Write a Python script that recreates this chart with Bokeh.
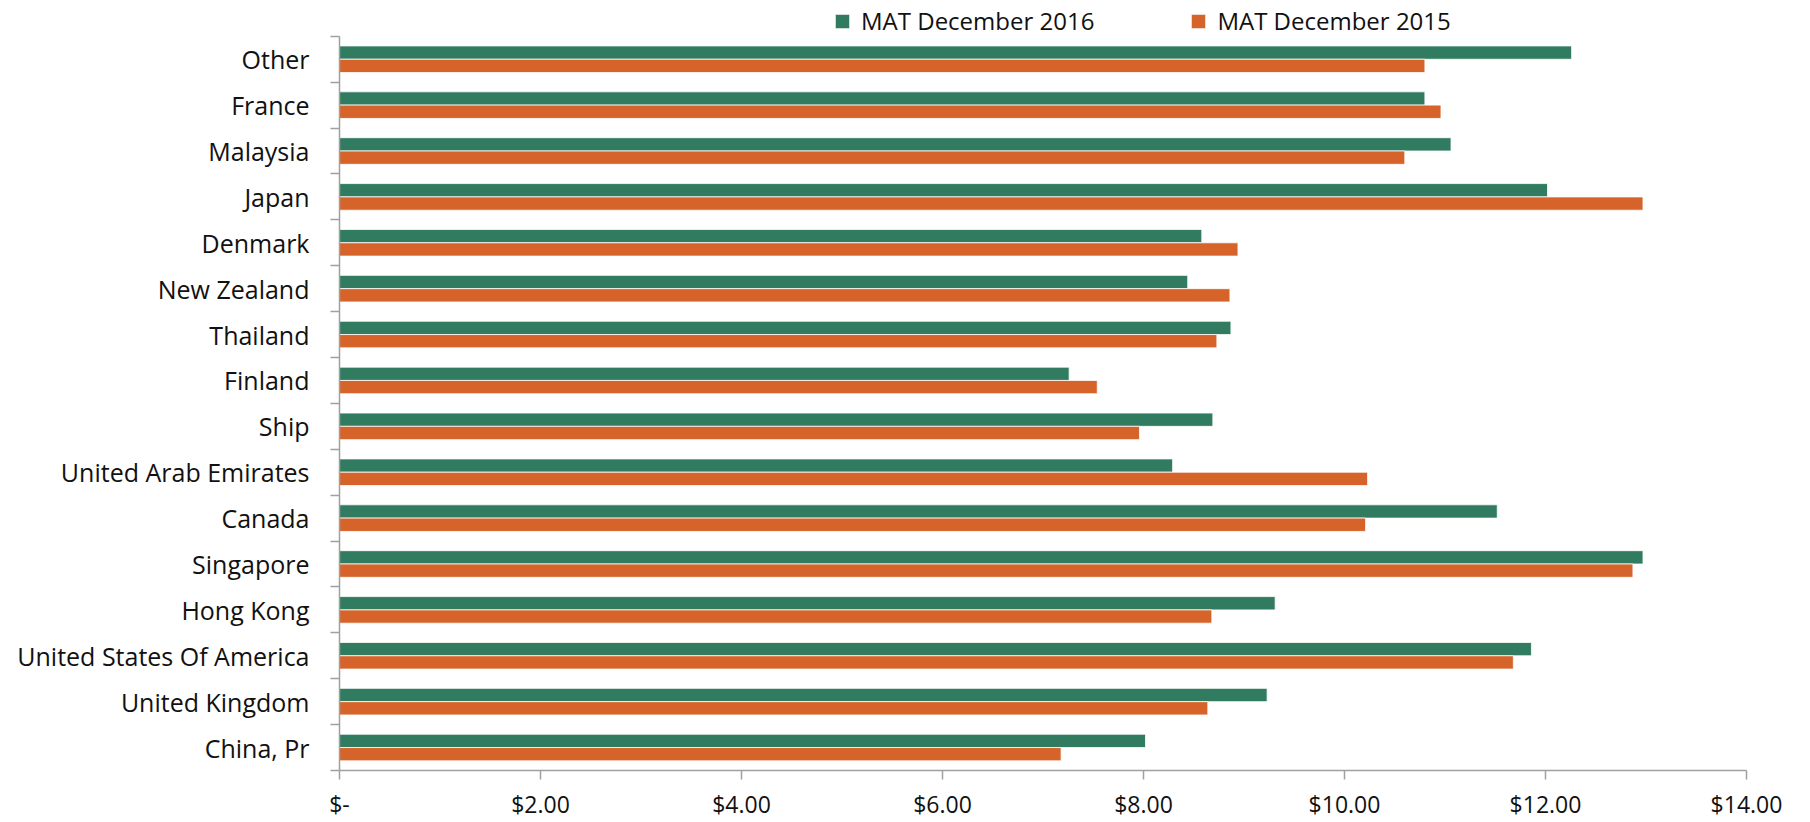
import numpy as np
from bokeh.plotting import figure
from bokeh.models import ColumnDataSource, FixedTicker, Legend, LegendItem, Range1d
from bokeh.transform import dodge
from bokeh.embed import file_html
from bokeh.resources import INLINE

# ---- data (top of chart to bottom) ----
categories = [
    "Other", "France", "Malaysia", "Japan", "Denmark", "New Zealand",
    "Thailand", "Finland", "Ship", "United Arab Emirates", "Canada",
    "Singapore", "Hong Kong", "United States Of America", "United Kingdom",
    "China, Pr",
]
mat_2016 = [12.26, 10.80, 11.06, 12.02, 8.58, 8.44, 8.87, 7.26, 8.69, 8.29,
            11.52, 12.97, 9.31, 11.86, 9.23, 8.02]
mat_2015 = [10.80, 10.96, 10.60, 12.97, 8.94, 8.86, 8.73, 7.54, 7.96, 10.23,
            10.21, 12.87, 8.68, 11.68, 8.64, 7.18]
series_names = ["MAT December 2016", "MAT December 2015"]
x_ticks = [0, 2, 4, 6, 8, 10, 12, 14]
x_tick_labels = ["$-", "$2.00", "$4.00", "$6.00", "$8.00", "$10.00", "$12.00", "$14.00"]

GREEN = "#317B61"
ORANGE = "#D5632A"
AXIS = "#A0A0A0"
FONT = "Open Sans"

n = len(categories)
ypos = [n - 0.5 - i for i in range(n)]
src = ColumnDataSource(dict(y=ypos, cat=categories, v16=mat_2016, v15=mat_2015))

# extra room (in rows) above the first category, where the legend sits
TOP_PAD = 0.78

p = figure(width=1794, height=822, output_backend="svg", toolbar_location=None,
           x_range=Range1d(0, 14), y_range=Range1d(0, n + TOP_PAD),
           min_border_left=339, min_border_right=48, min_border_top=0,
           min_border_bottom=49)
p.outline_line_color = None
p.grid.visible = False
p.background_fill_color = "white"

bw = 0.29
r16 = p.hbar(y=dodge("y", bw / 2, range=p.y_range), left=0, right="v16", height=bw,
             source=src, fill_color=GREEN, line_color="white", line_width=0.8)
r15 = p.hbar(y=dodge("y", -bw / 2, range=p.y_range), left=0, right="v15", height=bw,
             source=src, fill_color=ORANGE, line_color="white", line_width=0.8)

# x axis
xa = p.xaxis[0]
xa.ticker = FixedTicker(ticks=x_ticks, minor_ticks=[])
xa.major_label_overrides = {t: l for t, l in zip(x_ticks, x_tick_labels)}
xa.axis_line_color = AXIS
xa.axis_line_width = 1.5
xa.major_tick_line_color = AXIS
xa.major_tick_line_width = 1.5
xa.major_tick_in = 0
xa.major_tick_out = 9
xa.minor_tick_line_color = None
xa.major_label_text_font = FONT
xa.major_label_text_font_size = "23px"
xa.major_label_text_color = "#111111"
xa.major_label_standoff = 8

# y axis: labels at centers, ticks at category boundaries
ya = p.yaxis[0]
ya.bounds = (0, n)
ya.ticker = FixedTicker(ticks=ypos, minor_ticks=list(range(n + 1)))
ya.major_label_overrides = {y: c for y, c in zip(ypos, categories)}
ya.axis_line_color = AXIS
ya.axis_line_width = 1.5
ya.major_tick_line_color = None
ya.major_tick_in = 0
ya.major_tick_out = 9
ya.minor_tick_line_color = AXIS
ya.minor_tick_line_width = 1.5
ya.minor_tick_in = 0
ya.minor_tick_out = 9
ya.major_label_text_font = FONT
ya.major_label_text_font_size = "25px"
ya.major_label_text_color = "#111111"
ya.major_label_standoff = 21

legend = Legend(items=[LegendItem(label=series_names[0], renderers=[r16]),
                       LegendItem(label=series_names[1], renderers=[r15])],
                orientation="horizontal", location=(494, 733),
                padding=0, margin=0, spacing=95, label_standoff=10,
                glyph_width=18, glyph_height=18,
                label_text_font=FONT, label_text_font_size="24px",
                label_text_color="#111111",
                border_line_color=None, background_fill_alpha=0)
p.add_layout(legend, "center")

open("out.html", "w").write(file_html(p, INLINE))
